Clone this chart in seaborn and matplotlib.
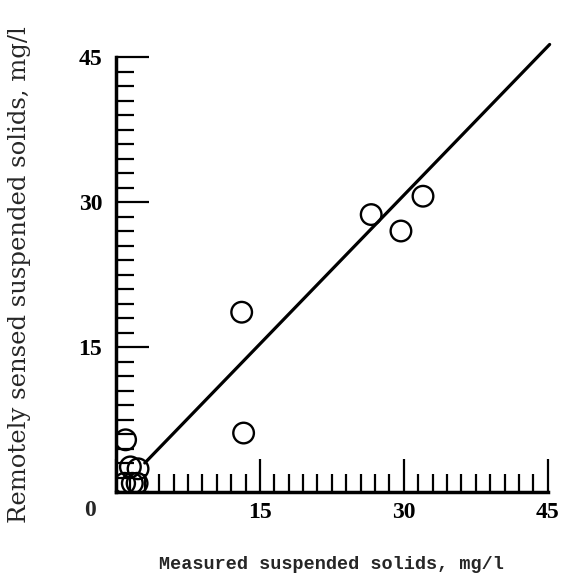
import matplotlib
matplotlib.use("Agg")
import matplotlib.pyplot as plt
from matplotlib.ticker import MultipleLocator
import pandas as pd
import seaborn as sns

# measured vs remotely sensed suspended solids, mg/l
measured = [1.0, 1.5, 2.3, 0.9, 1.7, 2.2, 13.1, 13.3, 26.6, 29.7, 32.0]
sensed = [5.4, 2.6, 2.4, 0.9, 0.9, 0.9, 18.6, 6.1, 28.7, 27.0, 30.6]
# regression line end points
fit_x = [3.0, 45.2]
fit_y = [3.0, 46.3]
tick_vals = [0, 15, 30, 45]
tick_labels = ['', '15', '30', '45']

sns.set_style("white")
plt.rcParams['font.family'] = ['DejaVu Serif']

df = pd.DataFrame({'measured': measured, 'sensed': sensed})
fit = pd.DataFrame({'x': fit_x, 'y': fit_y})

fig = plt.figure(figsize=(5.62, 5.86), dpi=100)
ax = fig.add_axes([0.2064, 0.1604, 0.7682, 0.7423])

sns.lineplot(data=fit, x='x', y='y', ax=ax, color='black', lw=2.3, clip_on=False)
sns.scatterplot(data=df, x='measured', y='sensed', ax=ax, marker='o', s=220,
                facecolor='none', edgecolor='black', linewidth=1.7, zorder=3)

ax.set_xlim(0, 45)
ax.set_ylim(0, 45)
ax.set_xticks(tick_vals, tick_labels)
ax.set_yticks(tick_vals, tick_labels)
ax.xaxis.set_minor_locator(MultipleLocator(1.5))
ax.yaxis.set_minor_locator(MultipleLocator(1.5))
ax.tick_params(which='both', direction='in', color='black', width=1.6,
               labelcolor='black')
ax.tick_params(which='major', length=24)
ax.tick_params(which='minor', length=13)
ax.tick_params(axis='y', pad=10)
ax.tick_params(axis='x', pad=7)
ax.tick_params(bottom=True, left=True, which='both')
for lab in ax.get_xticklabels() + ax.get_yticklabels():
    lab.set_family('Liberation Serif')
    lab.set_fontweight('bold')
    lab.set_fontsize(17)
sns.despine(ax=ax)
for s in ['left', 'bottom']:
    ax.spines[s].set_linewidth(2.5)
    ax.spines[s].set_color('black')

ax.text(-2.7, -1.9, '0', fontsize=17, family='Liberation Serif',
        fontweight='bold', ha='center', va='center')

ax.set_xlabel('Measured suspended solids, mg/l', fontsize=13.3,
              family='Liberation Mono', fontweight='bold', labelpad=24)
ax.set_ylabel('Remotely sensed suspended solids, mg/l', fontsize=17.5,
              labelpad=34)

fig.savefig('out.png', dpi=100)
